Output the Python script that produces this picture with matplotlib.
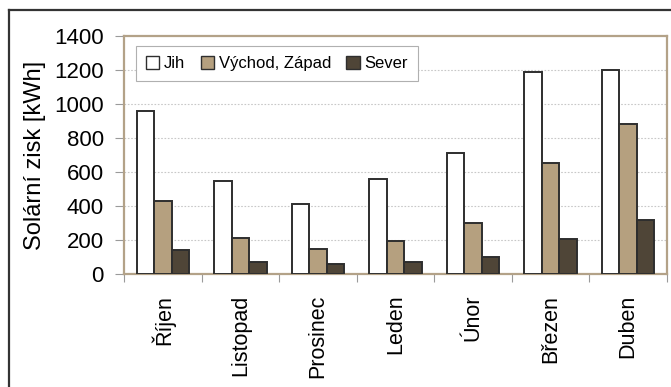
import matplotlib
matplotlib.use("Agg")
import matplotlib.pyplot as plt
import numpy as np
from matplotlib.lines import Line2D

months = ["Říjen", "Listopad", "Prosinec", "Leden", "Únor", "Březen", "Duben"]
series_names = ["Jih", "Východ, Západ", "Sever"]
jih = [957, 545, 410, 561, 710, 1188, 1200]
vychod_zapad = [432, 210, 147, 197, 298, 653, 880]
sever = [142, 69, 57, 69, 98, 204, 320]
y_ticks = [0, 200, 400, 600, 800, 1000, 1200, 1400]

plt.rcParams["font.family"] = ["Liberation Sans", "DejaVu Sans"]

face_colors = ["#ffffff", "#b5a07f", "#4f4537"]
edge_color = "#2e2e2e"
spine_color = "#b3a288"
tick_color = "#9a9a9a"

fig = plt.figure(figsize=(6.71, 3.87), dpi=100)
ax = fig.add_axes([124 / 671, 1 - 274 / 387, (667 - 124) / 671, (274 - 36) / 387])

x = np.arange(len(months))
w = 0.225
for i, (vals, name) in enumerate(zip([jih, vychod_zapad, sever], series_names)):
    ax.bar(x + (i - 1) * w, vals, width=w, color=face_colors[i],
           edgecolor=edge_color, linewidth=1.4, label=name, zorder=3)

ax.set_xlim(-0.5, len(months) - 0.5)
ax.set_ylim(0, 1400)
ax.set_yticks(y_ticks)
ax.set_yticklabels([str(v) for v in y_ticks], fontsize=16)
ax.tick_params(axis="y", direction="out", length=6.5, width=0.8, color=tick_color, pad=8)

# category boundaries as major ticks, labels centred on groups
ax.set_xticks(np.arange(len(months) + 1) - 0.5)
ax.set_xticklabels([])
ax.set_xticks(x, minor=True)
ax.set_xticklabels(months, minor=True, rotation=90, fontsize=15.5)
ax.tick_params(axis="x", which="major", direction="out", length=6, width=0.8, color=tick_color)
ax.tick_params(axis="x", which="minor", length=0, pad=15)
for lbl in ax.get_xticklabels(minor=True):
    lbl.set_verticalalignment("top")

for yv in y_ticks[1:-1]:
    ax.axhline(yv, color="#c8c8c8", linewidth=0.8, linestyle=(0, (1.5, 1.5)), zorder=1)

for sp in ax.spines.values():
    sp.set_color(spine_color)
    sp.set_linewidth(1.6)

ax.set_ylabel("Solární zisk [kWh]", fontsize=17, labelpad=6)

leg = ax.legend(loc="upper left", bbox_to_anchor=(0.022, 0.958), borderaxespad=0, ncol=3,
                fontsize=12, frameon=True, fancybox=False, edgecolor="#b0b0b0", framealpha=1,
                handlelength=0.8, handleheight=0.8, handletextpad=0.3,
                columnspacing=0.9, borderpad=0.6)
leg.get_frame().set_linewidth(0.8)
for h in leg.legend_handles:
    h.set_linewidth(1.0)

# outer frame (top and left edges)
fig.add_artist(Line2D([9 / 671, 1.0], [1 - 10 / 387, 1 - 10 / 387], color="#333333", linewidth=1.6,
                      transform=fig.transFigure))
fig.add_artist(Line2D([9 / 671, 9 / 671], [0.0, 1 - 10 / 387], color="#333333", linewidth=1.6,
                      transform=fig.transFigure))

fig.savefig("out.png", dpi=100)
